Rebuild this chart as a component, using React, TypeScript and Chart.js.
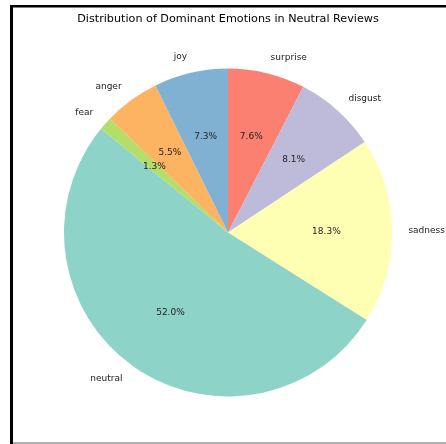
import React, { useEffect, useRef } from "react";
import { Chart, registerables } from "chart.js";

Chart.register(...registerables);

const TITLE = "Distribution of Dominant Emotions in Neutral Reviews";
const emotions = ["surprise", "disgust", "sadness", "neutral", "fear", "anger", "joy"];
const shares = [7.6, 8.1, 18.3, 52.0, 1.3, 5.5, 7.3];
const colors = ["#fb8072", "#bebada", "#ffffb3", "#8dd3c7", "#b3de69", "#fdb462", "#80b1d3"];

const FONT = "'DejaVu Sans', sans-serif";

const decorPlugin = {
  id: "decor",
  beforeDraw(chart: any) {
    const ctx = chart.ctx;
    ctx.save();
    ctx.fillStyle = "#ffffff";
    ctx.fillRect(0, 0, chart.width, chart.height);
    ctx.restore();
  },
  afterDraw(chart: any) {
    const ctx = chart.ctx;
    ctx.save();
    // frame
    ctx.fillStyle = "#000000";
    ctx.fillRect(10, 5, 3, chart.height - 5);
    ctx.fillRect(10, 5, chart.width - 10, 2.5);
    ctx.fillStyle = "#b0b0b0";
    ctx.fillRect(13, 442, chart.width - 13, 2);
    // title
    ctx.fillStyle = "#000000";
    ctx.font = `11.2px ${FONT}`;
    ctx.textAlign = "center";
    ctx.textBaseline = "middle";
    ctx.fillText(TITLE, 228, 19);

    const meta = chart.getDatasetMeta(0);
    const labels = chart.data.labels as string[];
    const values = chart.data.datasets[0].data as number[];
    meta.data.forEach((arc: any, i: number) => {
      const p = arc.getProps(["x", "y", "startAngle", "endAngle", "outerRadius"], true);
      const mid = (p.startAngle + p.endAngle) / 2;
      const c = Math.cos(mid);
      const s = Math.sin(mid);
      // percentage
      ctx.font = `9px ${FONT}`;
      ctx.fillStyle = "#222222";
      ctx.textAlign = "center";
      ctx.textBaseline = "middle";
      const pct = values[i].toFixed(1) + "%";
      ctx.fillText(pct, p.x + 0.6 * p.outerRadius * c, p.y + 0.6 * p.outerRadius * s);
      // label
      ctx.font = `9px ${FONT}`;
      ctx.fillStyle = "#222222";
      ctx.textAlign = c > 0 ? "left" : "right";
      ctx.fillText(labels[i], p.x + 1.1 * p.outerRadius * c, p.y + 1.1 * p.outerRadius * s);
    });
    ctx.restore();
  },
};

export default function App() {
  const ref = useRef<HTMLCanvasElement | null>(null);
  useEffect(() => {
    if (!ref.current) return;
    const chart = new Chart(ref.current, {
      type: "pie",
      data: {
        labels: emotions,
        datasets: [
          {
            data: shares,
            backgroundColor: colors,
            borderWidth: 0,
          },
        ],
      },
      options: {
        responsive: false,
        animation: false,
        rotation: 0,
        layout: { padding: { left: 64, right: 54, top: 68.5, bottom: 47.5 } },
        plugins: {
          legend: { display: false },
          title: { display: false },
          tooltip: { enabled: false },
        },
      },
      plugins: [decorPlugin],
    });
    return () => chart.destroy();
  }, []);
  return (
    <div style={{ position: "fixed", left: 0, top: 0, width: 446, height: 444, background: "#fff" }}>
      <canvas ref={ref} width={446} height={444} style={{ display: "block" }} />
    </div>
  );
}
